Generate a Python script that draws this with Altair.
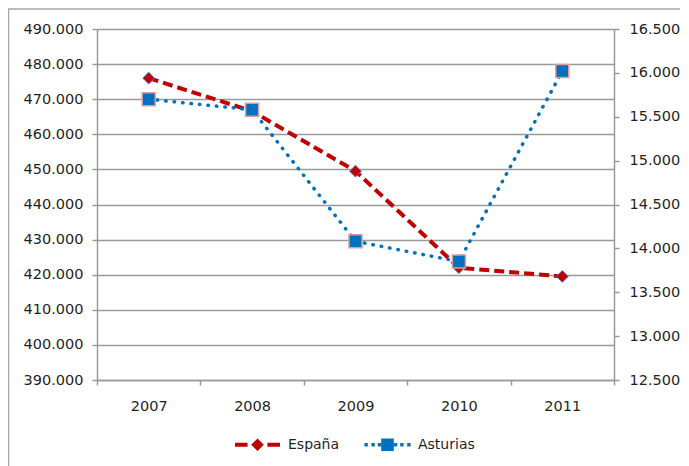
import altair as alt
import pandas as pd

# ---- data ----
years = ["2007", "2008", "2009", "2010", "2011"]
espana = [476000, 466600, 449500, 422000, 419500]
asturias = [15700, 15580, 14080, 13850, 16020]
series = ["España", "Asturias"]
left_ticks = list(range(390000, 490001, 10000))
right_ticks = list(range(12500, 16501, 500))

RED = "#C00000"
BLUE = "#0070C0"
GRID = "#9a9a9a"
TXT = "#1f1f1f"
FONT = "DejaVu Sans"
FS = 14.5

df = pd.DataFrame({"year": years, "espana": espana, "asturias": asturias})
df_long = pd.DataFrame({
    "year": years * 2,
    "serie": [series[0]] * len(years) + [series[1]] * len(years),
    "value": espana + asturias,
})

fmt = "replace(format(datum.value, ',.0f'), ',', '.')"

x_enc = alt.X(
    "year:O",
    bandPosition=0.5,
    scale=alt.Scale(type="band", paddingInner=0, paddingOuter=0),
    axis=alt.Axis(title=None, labelAngle=0, tickBand="extent", grid=False,
                  domainColor=GRID, domainWidth=1.5, tickColor=GRID, tickWidth=1.5,
                  tickSize=5, labelPadding=14, labelFont=FONT, labelFontSize=FS,
                  labelColor=TXT),
)

left_scale = alt.Scale(domain=[390000, 490000], nice=False, zero=False)
left_axis = alt.Axis(title=None, orient="left", values=left_ticks, labelExpr=fmt,
                     grid=True, gridColor=GRID, gridWidth=1.5,
                     domainColor=GRID, domainWidth=1.5, tickColor=GRID, tickWidth=1.5,
                     tickSize=5, labelPadding=9, labelFont=FONT, labelFontSize=FS,
                     labelColor=TXT)
right_scale = alt.Scale(domain=[12500, 16500], nice=False, zero=False)
right_axis = alt.Axis(title=None, orient="right", values=right_ticks, labelExpr=fmt,
                      grid=False, domainColor=GRID, domainWidth=1.5, tickColor=GRID,
                      tickWidth=1.5, tickSize=5, labelPadding=10, labelFont=FONT,
                      labelFontSize=FS, labelColor=TXT)

base = alt.Chart(df)

esp_line = base.mark_line(color=RED, strokeWidth=4, strokeDash=[10, 5]).encode(
    x=x_enc, y=alt.Y("espana:Q", scale=left_scale, axis=left_axis))
esp_pts = base.mark_point(shape="diamond", filled=True, fill=RED, size=140,
                          stroke="#5a76b8", strokeWidth=1, opacity=1).encode(
    x=x_enc, y=alt.Y("espana:Q", scale=left_scale, axis=left_axis))

# legend-only layer (no rows drawn), symbols are line+marker paths
path_es = ("M-1,-0.09L-0.44,-0.09L-0.44,0.09L-1,0.09Z "
           "M0,-0.28L0.28,0L0,0.28L-0.28,0Z "
           "M0.44,-0.09L1,-0.09L1,0.09L0.44,0.09Z")
dots = ""
for c in [-0.95, -0.64, -0.36, 0.36, 0.64, 0.95]:
    dots += "M{a},-0.075L{b},-0.075L{b},0.075L{a},0.075Z ".format(a=round(c - 0.075, 3), b=round(c + 0.075, 3))
path_as = dots + "M-0.28,-0.28L0.28,-0.28L0.28,0.28L-0.28,0.28Z"

leg = alt.Legend(title=None, orient="none", direction="horizontal", legendX=138,
                 legendY=393, symbolSize=2025, symbolStrokeWidth=0, labelOffset=8,
                 columnPadding=24, labelFont=FONT, labelFontSize=14, labelColor=TXT,
                 padding=0, symbolOpacity=1)
legend_layer = alt.Chart(df_long).transform_filter("false").mark_point(
    filled=True, opacity=1, strokeWidth=0).encode(
    x=x_enc,
    y=alt.Y("value:Q", scale=left_scale, axis=left_axis),
    color=alt.Color("serie:N", scale=alt.Scale(domain=series, range=[RED, BLUE]), legend=leg),
    shape=alt.Shape("serie:N", scale=alt.Scale(domain=series, range=[path_es, path_as]), legend=leg),
)

ast_line = base.mark_line(color=BLUE, strokeWidth=3.5, strokeDash=[0.5, 8],
                          strokeCap="round").encode(
    x=x_enc, y=alt.Y("asturias:Q", scale=right_scale, axis=right_axis))
ast_pts = base.mark_point(shape="square", filled=True, fill=BLUE, size=169,
                          stroke="#e39a9a", strokeWidth=1.5, opacity=1).encode(
    x=x_enc, y=alt.Y("asturias:Q", scale=right_scale, axis=right_axis))

frame = alt.Chart(alt.Data(values=[{}])).mark_rect(
    filled=False, stroke="#a6a6a6", strokeWidth=1.5, fill="transparent").encode(
    x=alt.value(-88.5), x2=alt.value(700), y=alt.value(-20), y2=alt.value(600))

left = alt.layer(esp_line, esp_pts, legend_layer)
right = alt.layer(ast_line, ast_pts)

chart = alt.layer(frame, left, right).resolve_scale(y="independent").properties(
    width=517, height=351,
    padding={"left": 89, "top": 21, "right": 66, "bottom": 86},
    autosize=alt.AutoSizeParams(type="none"),
    background="white",
).configure_view(stroke="transparent")

chart.save("out.html", embed_options={"renderer": "svg", "actions": False})
